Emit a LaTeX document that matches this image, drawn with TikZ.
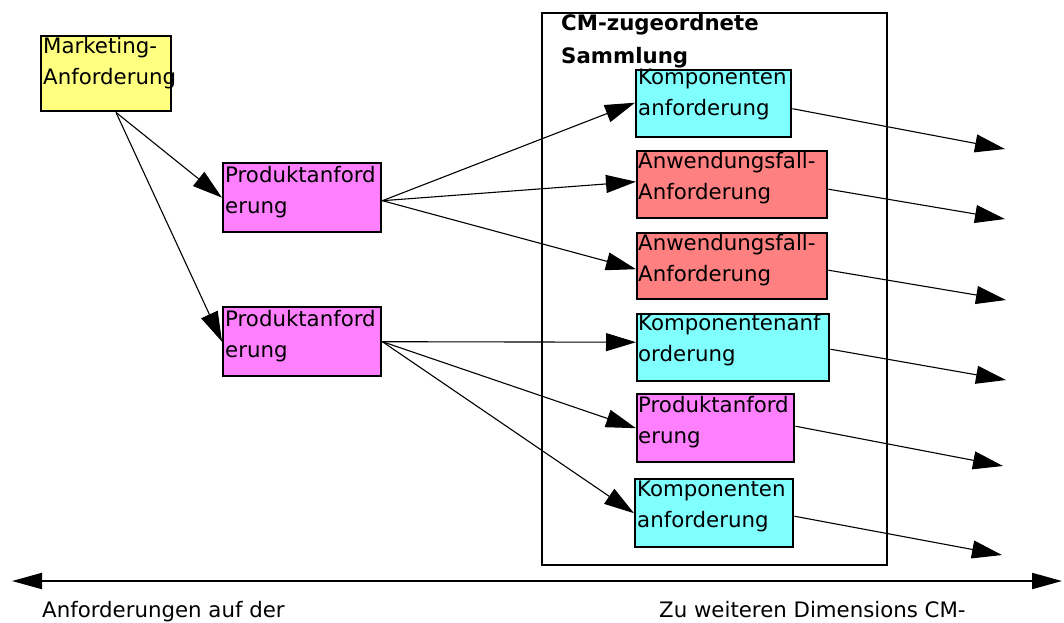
\documentclass[tikz,border=0pt]{standalone}
\usepackage{fontspec}
\setmainfont{DejaVu Sans}
\usetikzlibrary{arrows.meta,calc}
\definecolor{cyellow}{HTML}{FFFF80}
\definecolor{cmagenta}{HTML}{FF80FF}
\definecolor{ccyan}{HTML}{80FFFF}
\definecolor{csalmon}{HTML}{FF8080}
\tikzset{
  box/.style={draw=black, line width=2.4pt, rectangle, inner sep=0pt, anchor=north west},
  txt/.style={anchor=base west, inner sep=0pt, align=left, font=\fontsize{21.3}{31}\selectfont},
  conn/.style={line width=1.1pt, -{Triangle[length=30pt,width=18pt]}},
  axis/.style={line width=2pt, {Triangle[length=30pt,width=16pt]}-{Triangle[length=30pt,width=16pt]}}
}
\begin{document}
\begin{tikzpicture}[x=1pt,y=-1pt]
\useasboundingbox (0,0) rectangle (1064,622);
\clip (0,0) rectangle (1064,622);
% collection frame
\node[box, minimum width=345pt, minimum height=552pt] (cm) at (541,12) {};
\node[anchor=base west, inner sep=0pt, align=left, font=\fontsize{21.3}{33}\selectfont\bfseries] (cmt) at (561,63) {CM-zugeordnete\\Sammlung};
% boxes
\node[box, fill=cyellow, minimum width=130pt, minimum height=75pt] (m) at (40,35) {};
\node[box, fill=cmagenta, minimum width=158pt, minimum height=69pt] (p1) at (222,162) {};
\node[box, fill=cmagenta, minimum width=158pt, minimum height=69pt] (p2) at (222,306) {};
\node[box, fill=ccyan, minimum width=155pt, minimum height=67pt] (k1) at (635,69) {};
\node[box, fill=csalmon, minimum width=190pt, minimum height=67pt] (a1) at (636,150) {};
\node[box, fill=csalmon, minimum width=190pt, minimum height=66pt] (a2) at (636,232) {};
\node[box, fill=ccyan, minimum width=192pt, minimum height=67pt] (k2) at (636,313) {};
\node[box, fill=cmagenta, minimum width=157pt, minimum height=68pt] (p3) at (636,393) {};
\node[box, fill=ccyan, minimum width=158pt, minimum height=68pt] (k3) at (634,478) {};
% texts (anchor = baseline of the last line)
\node[txt] (mt) at ($(m.north west)+(3,49)$) {Marketing-\\Anforderung};
\node[txt] (p1t) at ($(p1.north west)+(3,51)$) {Produktanford\\erung};
\node[txt] (p2t) at ($(p2.north west)+(3,51)$) {Produktanford\\erung};
\node[txt] (k1t) at ($(k1.north west)+(3,46)$) {Komponenten\\anforderung};
\node[txt] (a1t) at ($(a1.north west)+(2,49)$) {Anwendungsfall-\\Anforderung};
\node[txt] (a2t) at ($(a2.north west)+(2,49)$) {Anwendungsfall-\\Anforderung};
\node[txt] (k2t) at ($(k2.north west)+(2,48)$) {Komponentenanf\\orderung};
\node[txt] (p3t) at ($(p3.north west)+(2,50)$) {Produktanford\\erung};
\node[txt] (k3t) at ($(k3.north west)+(3,49)$) {Komponenten\\anforderung};
% connectors
\coordinate (ms) at ($(m.south west)+(76,0)$);
\draw[conn] (ms) -- (p1.west);
\draw[conn] (ms) -- (p2.west);
\draw[conn] ([yshift=-3pt]p1.east) -- ([yshift=1pt]k1.west);
\draw[conn] ([yshift=-3pt]p1.east) -- ([yshift=3pt]a1.west);
\draw[conn] ([yshift=-3pt]p1.east) -- ([yshift=-3pt]a2.west);
\draw[conn] (p2.east) -- ([yshift=5.5pt]k2.west);
\draw[conn] (p2.east) -- (p3.west);
\draw[conn] (p2.east) -- (k3.west);
% outgoing arrows
\coordinate (t1) at (1005,149);
\coordinate (t2) at (1005,219);
\coordinate (t3) at (1006,300);
\coordinate (t4) at (1006,380);
\coordinate (t5) at (1003,466);
\coordinate (t6) at (1002,555);
\draw[conn] ([yshift=-5pt]k1.east) -- (t1);
\draw[conn] ([yshift=-4.5pt]a1.east) -- (t2);
\draw[conn] ([yshift=-4pt]a2.east) -- (t3);
\draw[conn] ([yshift=-1.5pt]k2.east) -- (t4);
\draw[conn] ([yshift=2pt]p3.east) -- (t5);
\draw[conn] ([yshift=-3pt]k3.east) -- (t6);
% axis
\coordinate (la) at (12,581);
\coordinate (ra) at (1062,581);
\draw[axis] (la) -- (ra);
\node[txt] (lt) at (42,617) {Anforderungen auf der};
\node[txt] (rt) at (659,617) {Zu weiteren Dimensions CM-};
\end{tikzpicture}
\end{document}
